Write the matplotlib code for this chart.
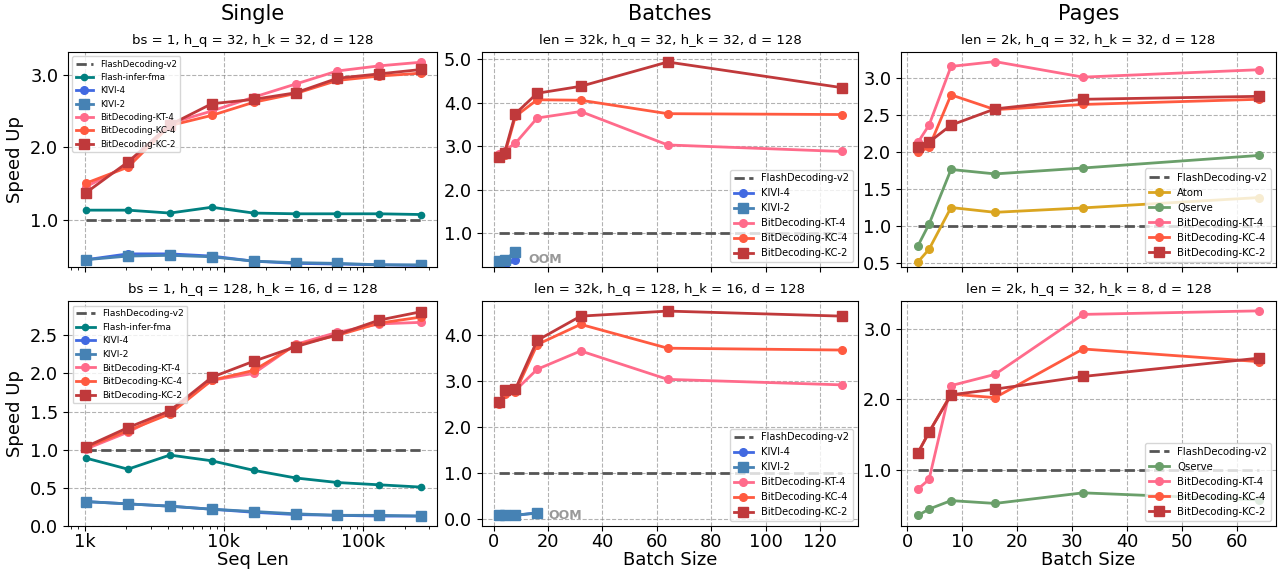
import numpy as np
import matplotlib
matplotlib.use('Agg')
import matplotlib.pyplot as plt
from matplotlib.ticker import FixedLocator, FixedFormatter, FormatStrFormatter

# ---- data ----
seq_len = [1024 * 2 ** i for i in range(9)]          # 1k .. 256k
bs_batches = [2, 4, 8, 16, 32, 64, 128]
bs_kivi = [2, 4, 8]
bs_kivi_b = [2, 4, 8, 16]
bs_pages = [2, 4, 8, 16, 32, 64]

# Single, bs=1, h_q=32, h_k=32
s1_fi = [1.14, 1.14, 1.10, 1.18, 1.10, 1.09, 1.09, 1.09, 1.08]
s1_kivi4 = [0.46, 0.54, 0.54, 0.51, 0.44, 0.41, 0.40, 0.39, 0.38]
s1_kivi2 = [0.46, 0.51, 0.52, 0.50, 0.44, 0.42, 0.41, 0.39, 0.39]
s1_kt4 = [1.46, 1.76, 2.33, 2.50, 2.69, 2.87, 3.05, 3.12, 3.17]
s1_kc4 = [1.51, 1.73, 2.30, 2.44, 2.62, 2.74, 2.92, 2.98, 3.02]
s1_kc2 = [1.38, 1.80, 2.31, 2.60, 2.66, 2.75, 2.95, 3.01, 3.07]

# Single, bs=1, h_q=128, h_k=16
s2_fi = [0.89, 0.745, 0.93, 0.855, 0.73, 0.63, 0.57, 0.54, 0.51]
s2_kivi4 = [0.32, 0.29, 0.26, 0.22, 0.18, 0.15, 0.14, 0.13, 0.13]
s2_kivi2 = [0.32, 0.29, 0.26, 0.22, 0.19, 0.16, 0.14, 0.14, 0.13]
s2_kt4 = [1.01, 1.23, 1.51, 1.91, 2.00, 2.38, 2.54, 2.65, 2.67]
s2_kc4 = [1.03, 1.25, 1.47, 1.91, 2.04, 2.37, 2.50, 2.66, 2.74]
s2_kc2 = [1.04, 1.29, 1.51, 1.95, 2.16, 2.35, 2.51, 2.70, 2.81]

# Batches, len=32k, h_q=32, h_k=32
b1_kivi4 = [0.27, 0.26, 0.37]
b1_kivi2 = [0.35, 0.39, 0.56]
b1_kt4 = [2.83, 2.90, 3.07, 3.65, 3.80, 3.03, 2.88]
b1_kc4 = [2.78, 2.80, 3.69, 4.07, 4.06, 3.75, 3.73]
b1_kc2 = [2.75, 2.85, 3.75, 4.22, 4.38, 4.94, 4.35]

# Batches, len=32k, h_q=128, h_k=16
b2_kivi4 = [0.08, 0.08, 0.07, 0.13]
b2_kivi2 = [0.08, 0.08, 0.08, 0.12]
b2_kt4 = [2.53, 2.74, 2.80, 3.26, 3.66, 3.04, 2.92]
b2_kc4 = [2.51, 2.71, 2.77, 3.80, 4.24, 3.72, 3.68]
b2_kc2 = [2.54, 2.80, 2.83, 3.89, 4.42, 4.53, 4.42]

# Pages, len=2k, h_q=32, h_k=32
p1_atom = [0.51, 0.68, 1.245, 1.18, 1.24, 1.38]
p1_qserve = [0.73, 1.02, 1.76, 1.70, 1.78, 1.95]
p1_kt4 = [2.13, 2.36, 3.155, 3.22, 3.01, 3.11]
p1_kc4 = [1.99, 2.06, 2.77, 2.57, 2.64, 2.71]
p1_kc2 = [2.06, 2.13, 2.36, 2.58, 2.71, 2.75]

# Pages, len=2k, h_q=32, h_k=8
p2_qserve = [0.35, 0.44, 0.56, 0.52, 0.67, 0.57]
p2_kt4 = [0.725, 0.86, 2.19, 2.35, 3.20, 3.25]
p2_kc4 = [1.24, 1.53, 2.07, 2.02, 2.71, 2.53]
p2_kc2 = [1.24, 1.53, 2.06, 2.14, 2.32, 2.58]

C = {
    'fd': '#555555', 'fi': '#008080', 'kivi4': '#4169E1', 'kivi2': '#4682B4',
    'kt4': '#FF6B8B', 'kc4': '#FF5A40', 'kc2': '#C0393B',
    'atom': '#DAA520', 'qserve': '#6A9F6A',
}

plt.rcParams['font.family'] = 'DejaVu Sans'
fig = plt.figure(figsize=(12.83, 5.73), dpi=100)
W, H = 1283.0, 573.0


def mk_ax(x0, y0, x1, y1):
    return fig.add_axes([x0 / W, 1 - y1 / H, (x1 - x0) / W, (y1 - y0) / H])


cols = [(68, 437), (482, 858), (901, 1276)]
rows = [(52, 267), (301, 526)]
axes = [[mk_ax(c[0], r[0], c[1], r[1]) for c in cols] for r in rows]


def line(ax, x, y, key, label, marker='o', ms=5.5):
    ax.plot(x, y, marker=marker, color=C[key], label=label, lw=2, ms=ms)


def fd_line(ax, x):
    ax.plot(x, [1.0] * len(x), '--', color=C['fd'], lw=2, label='FlashDecoding-v2')


def style(ax, yticks):
    ax.grid(True, ls='--', color='gray', alpha=0.6, lw=0.8)
    ax.set_yticks(yticks)
    ax.yaxis.set_major_formatter(FormatStrFormatter('%.1f'))
    ax.tick_params(labelsize=12.8)
    ax.tick_params(axis='x', pad=1.5)


def legend(ax, loc, fs):
    ax.legend(loc=loc, fontsize=fs, handlelength=2.0, borderpad=0.4,
              labelspacing=0.5)


# --- Single column ---
for r, (fi, k4, k2, kt, kc4, kc2, title, yt, yl, lfs) in enumerate([
        (s1_fi, s1_kivi4, s1_kivi2, s1_kt4, s1_kc4, s1_kc2,
         'bs = 1, h_q = 32, h_k = 32, d = 128', [1.0, 2.0, 3.0], (0.36, 3.31), 6.2),
        (s2_fi, s2_kivi4, s2_kivi2, s2_kt4, s2_kc4, s2_kc2,
         'bs = 1, h_q = 128, h_k = 16, d = 128', [0.0, 0.5, 1.0, 1.5, 2.0, 2.5],
         (0.0, 2.95), 6.6)]):
    ax = axes[r][0]
    fd_line(ax, seq_len)
    line(ax, seq_len, fi, 'fi', 'Flash-infer-fma', ms=4.5)
    line(ax, seq_len, k4, 'kivi4', 'KIVI-4')
    line(ax, seq_len, k2, 'kivi2', 'KIVI-2', marker='s', ms=6.5)
    line(ax, seq_len, kt, 'kt4', 'BitDecoding-KT-4')
    line(ax, seq_len, kc4, 'kc4', 'BitDecoding-KC-4')
    line(ax, seq_len, kc2, 'kc2', 'BitDecoding-KC-2', marker='s', ms=6.5)
    ax.set_xscale('log')
    ax.set_xlim(760, 340000)
    ax.set_ylim(*yl)
    ax.xaxis.set_major_locator(FixedLocator([1000, 10000, 100000]))
    ax.xaxis.set_major_formatter(FixedFormatter(['1k', '10k', '100k']))
    style(ax, yt)
    ax.set_title(title, fontsize=9.5)
    ax.set_ylabel('Speed Up', fontsize=13)
    legend(ax, 'upper left', lfs)
axes[0][0].tick_params(axis='x', labelbottom=False)
axes[1][0].set_xlabel('Seq Len', fontsize=13, labelpad=0)

# --- Batches column ---
for r, (k4, k2, bk, kt, kc4, kc2, title, yt, yl, oom) in enumerate([
        (b1_kivi4, b1_kivi2, bs_kivi, b1_kt4, b1_kc4, b1_kc2,
         'len = 32k, h_q = 32, h_k = 32, d = 128', [1.0, 2.0, 3.0, 4.0, 5.0],
         (0.22, 5.17), (12.9, 0.39)),
        (b2_kivi4, b2_kivi2, bs_kivi_b, b2_kt4, b2_kc4, b2_kc2,
         'len = 32k, h_q = 128, h_k = 16, d = 128', [0.0, 1.0, 2.0, 3.0, 4.0],
         (-0.16, 4.75), (20.2, 0.07))]):
    ax = axes[r][1]
    fd_line(ax, bs_batches)
    line(ax, bk, k4, 'kivi4', 'KIVI-4')
    line(ax, bk, k2, 'kivi2', 'KIVI-2', marker='s', ms=6.5)
    line(ax, bs_batches, kt, 'kt4', 'BitDecoding-KT-4')
    line(ax, bs_batches, kc4, 'kc4', 'BitDecoding-KC-4')
    line(ax, bs_batches, kc2, 'kc2', 'BitDecoding-KC-2', marker='s', ms=6.5)
    ax.text(oom[0], oom[1], 'OOM', color='#999999', fontsize=9, fontweight='bold',
            va='center', ha='left')
    ax.set_xlim(-4.3, 134)
    ax.set_ylim(*yl)
    ax.set_xticks([0, 20, 40, 60, 80, 100, 120])
    style(ax, yt)
    ax.set_title(title, fontsize=9.5)
    legend(ax, 'lower right', 7.1)
axes[0][1].tick_params(axis='x', labelbottom=False)
axes[1][1].set_xlabel('Batch Size', fontsize=13, labelpad=0)

# --- Pages column ---
ax = axes[0][2]
fd_line(ax, bs_pages)
line(ax, bs_pages, p1_atom, 'atom', 'Atom')
line(ax, bs_pages, p1_qserve, 'qserve', 'Qserve')
line(ax, bs_pages, p1_kt4, 'kt4', 'BitDecoding-KT-4')
line(ax, bs_pages, p1_kc4, 'kc4', 'BitDecoding-KC-4')
line(ax, bs_pages, p1_kc2, 'kc2', 'BitDecoding-KC-2', marker='s', ms=6.5)
ax.set_ylim(0.44, 3.35)
style(ax, [0.5, 1.0, 1.5, 2.0, 2.5, 3.0])
ax.set_title('len = 2k, h_q = 32, h_k = 32, d = 128', fontsize=9.5)

ax = axes[1][2]
fd_line(ax, bs_pages)
line(ax, bs_pages, p2_qserve, 'qserve', 'Qserve')
line(ax, bs_pages, p2_kt4, 'kt4', 'BitDecoding-KT-4')
line(ax, bs_pages, p2_kc4, 'kc4', 'BitDecoding-KC-4')
line(ax, bs_pages, p2_kc2, 'kc2', 'BitDecoding-KC-2', marker='s', ms=6.5)
ax.set_ylim(0.2, 3.39)
style(ax, [1.0, 2.0, 3.0])
ax.set_title('len = 2k, h_q = 32, h_k = 8, d = 128', fontsize=9.5)
ax.set_xlabel('Batch Size', fontsize=13, labelpad=0)

for r in range(2):
    ax = axes[r][2]
    ax.set_xlim(-1.1, 67.1)
    ax.set_xticks([0, 10, 20, 30, 40, 50, 60])
    legend(ax, 'lower right', 7.3)
axes[0][2].tick_params(axis='x', labelbottom=False)

# column headers
for (x0, x1), name in zip(cols, ['Single', 'Batches', 'Pages']):
    fig.text((x0 + x1) / 2 / W, 1 - 14 / H, name, ha='center', va='center', fontsize=15)

fig.savefig('out.png', dpi=100)
